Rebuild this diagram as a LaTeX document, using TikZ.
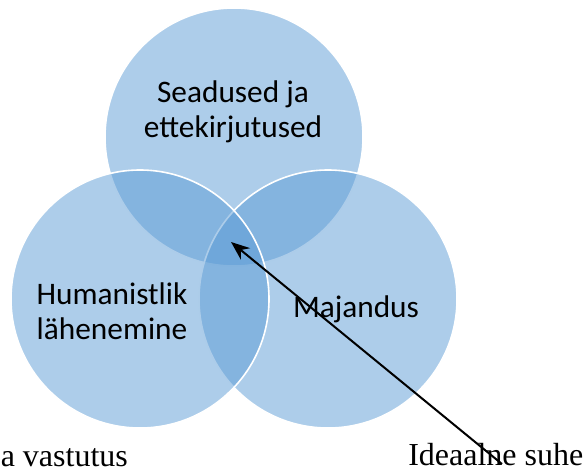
\documentclass[tikz,border=0pt]{standalone}
\usepackage{fontspec}
\usetikzlibrary{arrows.meta}
\newfontfamily\ringfont{Carlito}
\newfontfamily\serifont{Liberation Serif}
\definecolor{ringblue}{HTML}{5B9BD5}
\tikzset{
  ring/.style={fill=ringblue, fill opacity=0.5, draw=white, draw opacity=1, line width=1.2},
  ringtext/.style={inner sep=0.75pt, align=center, font=\ringfont\fontsize{23.5}{26}\selectfont},
  bottomtext/.style={inner sep=0pt, font=\serifont\fontsize{24}{28}\selectfont}
}
\begin{document}
\begin{tikzpicture}[x=0.75pt,y=0.75pt,yscale=-1,xscale=1]
\useasboundingbox (0,0) rectangle (584,472);

%Shape: Circle [id:top]
\draw [ring] (234,137) circle [radius=129];
%Shape: Circle [id:right]
\draw [ring] (328,299) circle [radius=129];
%Shape: Circle [id:left]
\draw [ring] (140,299) circle [radius=129];

% Text Node
\draw (233,112) node [ringtext] (seadused) {Seadused ja\\ettekirjutused};
% Text Node
\draw (112,311) node [ringtext] (humanistlik) {Humanistlik\\lähenemine};
% Text Node
\draw (356,317) node [ringtext, anchor=base] (majandus) {Majandus};
% Text Node
\draw (0.5,466) node [bottomtext, anchor=base west] (vastutus) {a vastutus};
% Text Node
\draw (408,465) node [bottomtext, anchor=base west] (suhe) {Ideaalne suhe};

%Straight Lines [id:arrow]
\coordinate (algus) at (502,464);
\coordinate (tipp) at (231,242);
\draw [line width=1.5, -{Stealth[length=14, width=11]}] (algus) -- (tipp);

\end{tikzpicture}
\end{document}
